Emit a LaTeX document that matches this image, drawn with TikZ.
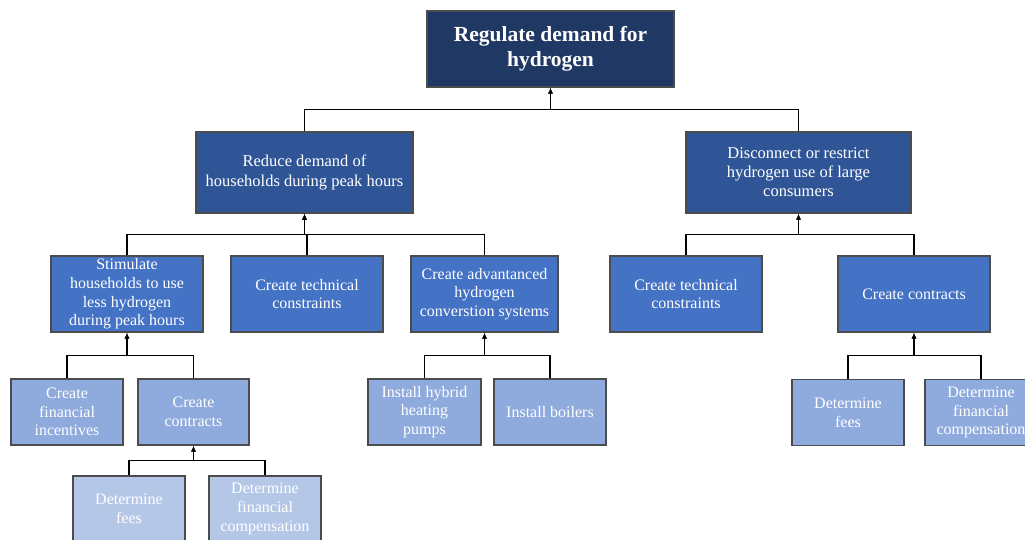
\documentclass[tikz,border=0pt]{standalone}
\usepackage{fontspec}
\setmainfont{Liberation Serif}
\usepackage{tikz}
\usetikzlibrary{calc,arrows.meta}
\definecolor{navy}{HTML}{203864}
\definecolor{lvla}{HTML}{2F5597}
\definecolor{lvlb}{HTML}{4472C4}
\definecolor{lvlc}{HTML}{8FAADC}
\definecolor{lvld}{HTML}{B4C7E7}

\begin{document}
\begin{tikzpicture}[x=1pt,y=-1pt,>={Latex[length=6pt,width=5pt]},bx/.style args = {#1/#2/#3}{rectangle, draw=black!70, line width=1.4pt, fill=#1, text=white, align=center, inner sep=0pt, minimum width=#2pt, minimum height=#3pt, font=\fontsize{16}{18.7}\selectfont}]
\clip (0,0) rectangle (1025,540);
\node (goal) [bx=navy/247/76, font=\bfseries\fontsize{21.5}{25}\selectfont] at (550.5,49) {Regulate demand for\\hydrogen};
\node (hh) [bx=lvla/217/81, font=\fontsize{16.5}{20}\selectfont] at (304.5,172.5) {Reduce demand of\\households during peak hours};
\node (lc) [bx=lvla/225/81, font=\fontsize{16.5}{19}\selectfont] at (798.5,172.5) {Disconnect or restrict\\hydrogen use of large\\consumers};
\node (stim) [bx=lvlb/152/76] at (127,294) {Stimulate\\households to use\\less hydrogen\\during peak hours};
\node (tech) [bx=lvlb/152/76] at (307,294) {Create technical\\constraints};
\node (conv) [bx=lvlb/147/76] at (484.5,294) {Create advantanced\\hydrogen\\converstion systems};
\node (techb) [bx=lvlb/152/76] at (686,294) {Create technical\\constraints};
\node (conb) [bx=lvlb/152/76] at (914,294) {Create contracts};
\node (fin) [bx=lvlc/112/66] at (67,412) {Create\\financial\\incentives};
\node (con) [bx=lvlc/111/66] at (193.5,412) {Create\\contracts};
\node (hyb) [bx=lvlc/113/66] at (424.5,412) {Install hybrid\\heating\\pumps};
\node (boil) [bx=lvlc/112/66] at (550,412) {Install boilers};
\node (feesb) [bx=lvlc/112/66] at (848,412.5) {Determine\\fees};
\node (compb) [bx=lvlc/112/66] at (981,412.5) {Determine\\financial\\compensation};
\node (fees) [bx=lvld/112/66] at (129,509) {Determine\\fees};
\node (comp) [bx=lvld/112/66] at (265,509) {Determine\\financial\\compensation};
\foreach \kid/\up in {hh/goal,lc/goal,stim/hh,tech/hh,conv/hh,techb/lc,conb/lc,fin/stim,con/stim,hyb/conv,boil/conv,feesb/conb,compb/conb,fees/con,comp/con}
\draw[->, line width=1.4pt] (\kid.north) |- ($(\kid.north)!.5!(\up.south)$) -| (\up.south);
\end{tikzpicture}
\end{document}
